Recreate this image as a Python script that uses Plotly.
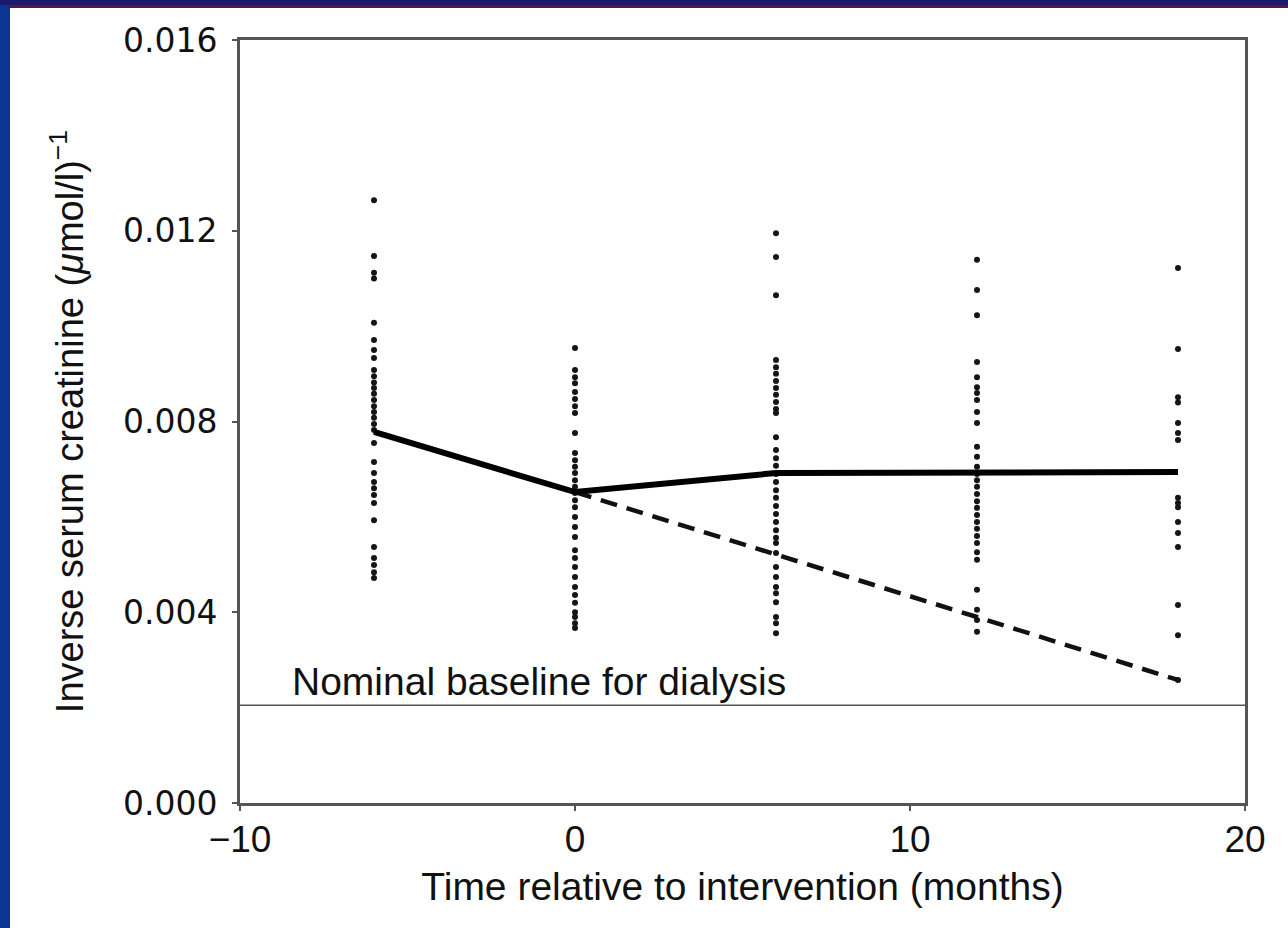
import plotly.graph_objects as go

# ---- data ----
times = [-6, 0, 6, 12, 18]
pts_m6 = [0.01264, 0.01147, 0.01112, 0.01100, 0.01007, 0.00971, 0.00950, 0.00933,
          0.00908, 0.00895, 0.00882, 0.00870, 0.00858, 0.00845, 0.00832, 0.00820,
          0.00808, 0.00795, 0.00782, 0.00755, 0.00715, 0.00692, 0.00673, 0.00660,
          0.00646, 0.00629, 0.00593, 0.00537, 0.00514, 0.00499, 0.00484, 0.00472]
pts_0 = [0.00954, 0.00908, 0.00893, 0.00880, 0.00862, 0.00847, 0.00832, 0.00818,
         0.00776, 0.00734, 0.00719, 0.00705, 0.00692, 0.00677, 0.00663, 0.00650,
         0.00635, 0.00620, 0.00600, 0.00579, 0.00558, 0.00530, 0.00514, 0.00495,
         0.00474, 0.00453, 0.00436, 0.00420, 0.00400, 0.00390, 0.00377, 0.00367]
pts_6 = [0.01195, 0.01145, 0.01065, 0.00929, 0.00914, 0.00900, 0.00885, 0.00870,
         0.00856, 0.00841, 0.00826, 0.00818, 0.00767, 0.00740, 0.00723, 0.00707,
         0.00690, 0.00673, 0.00656, 0.00640, 0.00623, 0.00606, 0.00589, 0.00572,
         0.00556, 0.00545, 0.00524, 0.00495, 0.00474, 0.00453, 0.00440, 0.00421,
         0.00390, 0.00377, 0.00356]
pts_12 = [0.01139, 0.01076, 0.01023, 0.00925, 0.00893, 0.00872, 0.00860, 0.00845,
          0.00820, 0.00797, 0.00747, 0.00726, 0.00705, 0.00690, 0.00677, 0.00663,
          0.00648, 0.00633, 0.00619, 0.00604, 0.00589, 0.00575, 0.00560, 0.00545,
          0.00526, 0.00510, 0.00447, 0.00405, 0.00384, 0.00359]
pts_18 = [0.01122, 0.00952, 0.00851, 0.00840, 0.00797, 0.00776, 0.00761, 0.00640,
          0.00629, 0.00620, 0.00589, 0.00566, 0.00537, 0.00415, 0.00352, 0.00258]
groups = [pts_m6, pts_0, pts_6, pts_12, pts_18]

mean_x = [-6, 0, 6, 12, 18]
mean_y = [0.00778, 0.00652, 0.00692, 0.00692, 0.00694]
proj_x = [0, 6, 12, 18]
proj_y = [0.00652, 0.00522, 0.00390, 0.00258]
dialysis_baseline = 0.00205
baseline_label = "Nominal baseline for dialysis"
x_ticks = [-10, 0, 10, 20]
y_ticks = [0.000, 0.004, 0.008, 0.012, 0.016]

W, H = 1288, 928
ML, MR, MT, MB = 240, 43, 40, 125

fig = go.Figure()

# scatter dots
xs, ys = [], []
for t, g in zip(times, groups):
    xs += [t] * len(g)
    ys += g
fig.add_trace(go.Scatter(x=xs, y=ys, mode="markers",
                         marker=dict(size=6, color="#151515", line=dict(width=0)),
                         showlegend=False, hoverinfo="skip"))

# baseline
fig.add_trace(go.Scatter(x=[-10, 20], y=[dialysis_baseline, dialysis_baseline], mode="lines",
                         line=dict(color="#555555", width=1.5), showlegend=False, hoverinfo="skip"))

# projected decline (dashed)
fig.add_trace(go.Scatter(x=proj_x, y=proj_y, mode="lines",
                         line=dict(color="#111111", width=4.5, dash="17px,10px"),
                         showlegend=False, hoverinfo="skip"))

# mean line
fig.add_trace(go.Scatter(x=mean_x, y=mean_y, mode="lines",
                         line=dict(color="#000000", width=6),
                         showlegend=False, hoverinfo="skip"))

fig.add_annotation(x=-8.5, y=dialysis_baseline, xref="x", yref="y", text=baseline_label,
                   showarrow=False, xanchor="left", yanchor="bottom",
                   font=dict(family="Liberation Sans, Arial", size=39, color="#111111"))

pw = W - ML - MR
ph = H - MT - MB
def px_x(p):
    return (p - ML) / pw
def px_y(p):
    return (H - MB - p) / ph

# slide frame: blue left strip and dark top strip
fig.add_shape(type="rect", xref="paper", yref="paper", x0=px_x(0), x1=px_x(10), y0=px_y(H), y1=px_y(0),
              fillcolor="#0b3593", line=dict(width=0), layer="above")
fig.add_shape(type="rect", xref="paper", yref="paper", x0=px_x(0), x1=px_x(W), y0=px_y(5), y1=px_y(0),
              fillcolor="#1b1a6a", line=dict(width=0), layer="above")
fig.add_shape(type="rect", xref="paper", yref="paper", x0=px_x(10), x1=px_x(W), y0=px_y(8), y1=px_y(5),
              fillcolor="#5b0f55", line=dict(width=0), layer="above")

fig.update_layout(
    width=W, height=H,
    margin=dict(l=ML, r=MR, t=MT, b=MB, pad=0),
    paper_bgcolor="white", plot_bgcolor="white",
    font=dict(family="Liberation Sans, Arial", color="#111111"),
    xaxis=dict(range=[-10, 20], tickvals=x_ticks, showgrid=False, zeroline=False,
               showline=True, mirror=True, linecolor="#555555", linewidth=3,
               ticks="outside", ticklen=5, tickwidth=2, tickcolor="#555555",
               ticklabelstandoff=-3,
               tickfont=dict(size=37, color="#111111"),
               title=dict(text="Time relative to intervention (months)",
                          font=dict(size=39, color="#111111"), standoff=14)),
    yaxis=dict(range=[0, 0.016], tickvals=y_ticks, tickformat=".3f", showgrid=False, zeroline=False,
               showline=True, mirror=True, linecolor="#555555", linewidth=3,
               ticks="outside", ticklen=5, tickwidth=2, tickcolor="#555555",
               ticklabelstandoff=8,
               tickfont=dict(family="DejaVu Sans", size=33, color="#111111"),
               title=dict(text="Inverse serum creatinine (<i>μ</i>mol/l)<sup>−1</sup>",
                          font=dict(size=38, color="#111111"), standoff=28)),
)

fig.write_html("out.html", config={"displayModeBar": False},
               post_script="document.body.style.margin='0';document.body.style.overflow='hidden';")
